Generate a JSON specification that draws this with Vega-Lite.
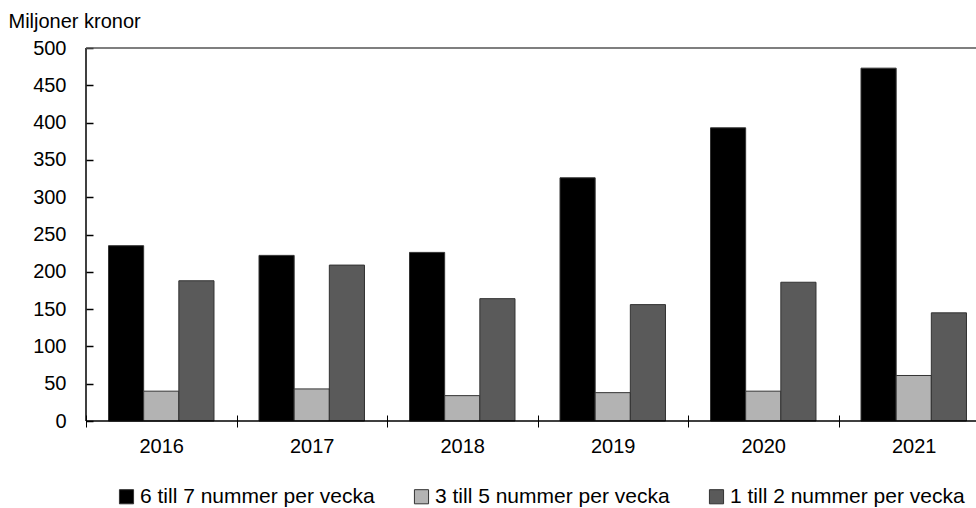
{
  "$schema": "https://vega.github.io/schema/vega-lite/v6.json",
  "width": 903,
  "height": 373,
  "autosize": {"type": "none"},
  "padding": {"left": 86, "top": 48, "right": 0, "bottom": 87},
  "config": {
    "font": "Liberation Sans",
    "view": {"stroke": null},
    "axis": {"labelFont": "Liberation Sans", "titleFont": "Liberation Sans", "labelColor": "#000", "titleColor": "#000", "domainColor": "#000", "tickColor": "#000", "grid": false},
    "axisY": {"tickCount": 10, "labelOverlap": false, "domain": false, "ticks": true, "offset": -7, "tickSize": 7, "tickWidth": 1.5, "tickColor": "#000000", "tickOpacity": 1, "labelPadding": 20, "labelFontSize": 20, "titleFontSize": 20, "titleFontWeight": "normal", "titleAngle": 0, "titleAlign": "left", "titleBaseline": "alphabetic", "titleX": -85, "titleY": -21, "zindex": 1}
  },
  "data": {
    "values": [
      {"year": "2016", "serie": "6 till 7 nummer per vecka", "value": 235},
      {"year": "2016", "serie": "3 till 5 nummer per vecka", "value": 40},
      {"year": "2016", "serie": "1 till 2 nummer per vecka", "value": 188},
      {"year": "2017", "serie": "6 till 7 nummer per vecka", "value": 222},
      {"year": "2017", "serie": "3 till 5 nummer per vecka", "value": 43},
      {"year": "2017", "serie": "1 till 2 nummer per vecka", "value": 209},
      {"year": "2018", "serie": "6 till 7 nummer per vecka", "value": 226},
      {"year": "2018", "serie": "3 till 5 nummer per vecka", "value": 34},
      {"year": "2018", "serie": "1 till 2 nummer per vecka", "value": 164},
      {"year": "2019", "serie": "6 till 7 nummer per vecka", "value": 326},
      {"year": "2019", "serie": "3 till 5 nummer per vecka", "value": 38},
      {"year": "2019", "serie": "1 till 2 nummer per vecka", "value": 156},
      {"year": "2020", "serie": "6 till 7 nummer per vecka", "value": 393},
      {"year": "2020", "serie": "3 till 5 nummer per vecka", "value": 40},
      {"year": "2020", "serie": "1 till 2 nummer per vecka", "value": 186},
      {"year": "2021", "serie": "6 till 7 nummer per vecka", "value": 473},
      {"year": "2021", "serie": "3 till 5 nummer per vecka", "value": 61},
      {"year": "2021", "serie": "1 till 2 nummer per vecka", "value": 145}
    ]
  },
  "layer": [
    {
      "mark": {"type": "bar", "stroke": "#333333", "strokeWidth": 1},
      "encoding": {
        "x": {
          "field": "year", "type": "nominal",
          "scale": {"paddingInner": 0, "paddingOuter": 0},
          "axis": {"title": null, "domain": false, "offset": -6, "tickSize": 12, "tickBand": "extent", "labelAngle": 0, "labelFontSize": 20, "labelPadding": 9}
        },
        "xOffset": {
          "field": "serie", "type": "nominal",
          "sort": ["6 till 7 nummer per vecka", "3 till 5 nummer per vecka", "1 till 2 nummer per vecka"],
          "scale": {"paddingInner": 0, "paddingOuter": 0.64}
        },
        "y": {
          "field": "value", "type": "quantitative",
          "scale": {"domain": [0, 500], "nice": false},
          "axis": {"title": "Miljoner kronor", "ticks": true, "tickSize": 7, "tickWidth": 1.5}
        },
        "color": {
          "field": "serie", "type": "nominal",
          "scale": {"domain": ["6 till 7 nummer per vecka", "3 till 5 nummer per vecka", "1 till 2 nummer per vecka"], "range": ["#000000", "#b3b3b3", "#5a5a5a"]},
          "legend": {"title": null, "orient": "none", "legendX": 30, "legendY": 438, "direction": "horizontal", "symbolType": "square", "symbolSize": 200, "symbolStrokeColor": "#333333", "symbolStrokeWidth": 1, "labelFontSize": 21, "labelLimit": 400, "labelColor": "#000", "labelOffset": 3, "columnPadding": 36}
        }
      }
    },
    {
      "data": {"values": [{}]},
      "mark": {"type": "rule", "color": "#000000", "strokeWidth": 1.5},
      "encoding": {"y": {"datum": 0}}
    },
    {
      "data": {"values": [{}]},
      "mark": {"type": "rule", "color": "#000000", "strokeWidth": 1.5},
      "encoding": {"x": {"datum": "2016", "bandPosition": 0}}
    },
    {
      "data": {"values": [{}]},
      "mark": {"type": "rule", "color": "#555555", "strokeWidth": 1.5},
      "encoding": {"y": {"datum": 500}}
    }
  ]
}
